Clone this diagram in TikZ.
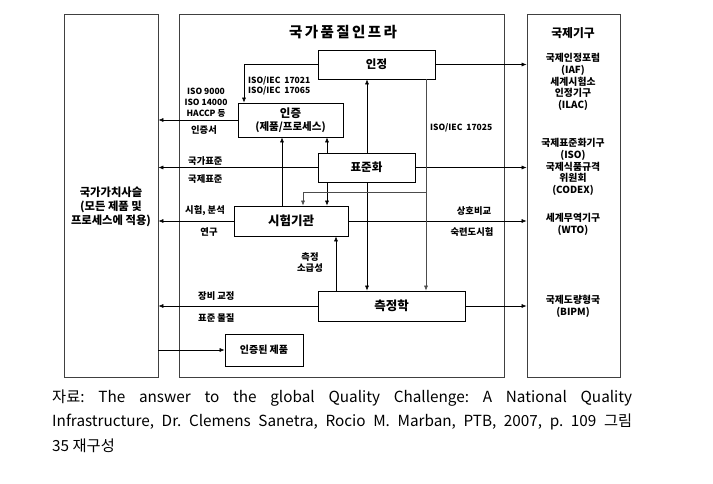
\documentclass[tikz,border=0pt]{standalone}
\usepackage{fontspec}
\setmainfont{Noto Sans CJK KR}
\usetikzlibrary{arrows.meta,calc}
\begin{document}
\frenchspacing
\begin{tikzpicture}[x=1pt,y=-1pt,
  outer/.style={draw=black!75,line width=0.7pt,inner sep=0pt},
  box/.style={draw=black,line width=0.7pt,inner sep=0pt,font=\bfseries\fontsize{11.5}{13}\selectfont},
  arr/.style={-{Latex[length=5pt,width=4pt]},line width=0.6pt},
  lbl/.style={inner sep=0pt,font=\bfseries\fontsize{9.3}{10}\selectfont},
  iso/.style={inner sep=0pt,font=\bfseries\fontsize{8.5}{10}\selectfont},
  org/.style={inner sep=0pt,align=center,font=\bfseries\fontsize{9.8}{11.8}\selectfont},
  captxt/.style={inner sep=0pt,anchor=west,font=\fontsize{15.3}{16}\selectfont}]
\useasboundingbox[fill=white] (0,0) rectangle (713,483);
% outer boxes
\node[outer,minimum width=94pt,minimum height=363pt] (L) at (111,195.5) {};
\node[outer,minimum width=325pt,minimum height=363pt] (M) at (341.5,195.5) {};
\node[outer,minimum width=93pt,minimum height=363pt] (R) at (573.5,195.5) {};
% titles
\node[inner sep=0pt,font=\bfseries\fontsize{14.5}{16}\selectfont] (title) at (343,32) {국\,가\,품\,질\,인\,프\,라};
\node[org,align=center,font=\bfseries\fontsize{11.3}{14}\selectfont] (vc) at (111,207) {국가가치사슬\\(모든 제품 및\\프로세스에 적용)};
\node[inner sep=0pt,font=\bfseries\fontsize{11.8}{13}\selectfont] (rt) at (573,33) {국제기구};
\node[org] (o1) at (573,82) {국제인정포럼\\(IAF)\\세계시험소\\인정기구\\(ILAC)};
\node[org] (o2) at (573,167) {국제표준화기구\\(ISO)\\국제식품규격\\위원회\\(CODEX)};
\node[org] (o3) at (573,224) {세계무역기구\\(WTO)};
\node[org] (o4) at (573,306) {국제도량형국\\(BIPM)};
% inner boxes
\node[box,minimum width=117pt,minimum height=29pt] (inj) at (376.5,64.5) {인정};
\node[box,minimum width=105pt,minimum height=34pt,align=center,font=\bfseries\fontsize{10.5}{13}\selectfont] (cert) at (290.5,120) {\fontsize{11.5}{13}\selectfont 인증\\(제품/프로세스)};
\node[box,minimum width=97pt,minimum height=29pt] (std) at (366.5,167.5) {표준화};
\node[box,minimum width=114pt,minimum height=30pt,font=\bfseries\fontsize{12.5}{14}\selectfont] (test) at (291,221) {시험기관};
\node[box,minimum width=147pt,minimum height=30pt,font=\bfseries\fontsize{12.5}{14}\selectfont] (metro) at (391.5,306) {측정학};
\node[box,minimum width=78pt,minimum height=32pt,font=\bfseries\fontsize{10}{12}\selectfont] (prod) at (264,350) {인증된 제품};
% helper coordinates
\coordinate (vA) at (244,0);
\coordinate (vB) at (282,0);
\coordinate (vC) at (327,0);
\coordinate (vD) at (367,0);
\coordinate (vE) at (426,0);
\coordinate (vF) at (303,0);
\coordinate (vG) at (336,0);
\coordinate (hB) at (0,192);
% connectors
\draw[arr] (inj.west) -| (cert.north -| vA);
\draw[arr] (inj.east) -- (inj.east -| R.west);
\draw[arr] (cert.west) -- (cert.west -| L.east);
\draw[arr] (std.west) -- (std.west -| L.east);
\draw[arr] (std.east) -- (std.east -| R.west);
\draw[arr] (test.west) -- (test.west -| L.east);
\draw[arr] (test.east) -- (test.east -| R.west);
\draw[arr] (metro.west) -- (metro.west -| L.east);
\draw[arr] (metro.east) -- (metro.east -| R.west);
\draw[arr] (prod.west -| L.east) -- (prod.west);
\draw[arr] (test.north -| vB) -- (cert.south -| vB);
\draw[arr] (std.north -| vC) -- (cert.south -| vC);
\draw[arr] (std.south -| vC) -- (test.north -| vC);
\draw[arr] (std.north -| vD) -- (inj.south -| vD);
\draw[arr] (std.south -| vD) -- (metro.north -| vD);
\draw[arr,draw=black!70] (inj.south -| vE) -- (metro.north -| vE);
\draw[arr,draw=black!70] (vE |- hB) -| (test.north -| vF);
\draw[arr] (metro.north -| vG) -- (test.south -| vG);
% labels
\node[iso,anchor=west] (l1) at (248,81) {ISO/IEC\ \ 17021};
\node[iso,anchor=west] (l2) at (248,91) {ISO/IEC\ \ 17065};
\node[iso] (l3) at (206,91) {ISO 9000};
\node[iso] (l4) at (206,102) {ISO 14000};
\node[iso] (l5) at (206,113) {HACCP\ 등};
\node[lbl] (l6) at (204,130) {인증서};
\node[iso,anchor=west] (l7) at (430,128) {ISO/IEC\ \ 17025};
\node[lbl,anchor=west] (l8) at (188,161) {국가표준};
\node[lbl,anchor=west] (l9) at (188,179) {국제표준};
\node[lbl,anchor=west] (l10) at (185,211) {시험, 분석};
\node[lbl] (l11) at (209,232) {연구};
\node[lbl] (l12) at (474,211) {상호비교};
\node[lbl] (l13) at (472,232) {숙련도시험};
\node[lbl] (l14) at (310,257) {측정};
\node[lbl] (l15) at (310,268) {소급성};
\node[lbl,anchor=west] (l16) at (198,296) {장비 교정};
\node[lbl,anchor=west] (l17) at (198,318) {표준 물질};
% caption
\node[captxt] (c1) at (52,398) {\makebox[580pt][s]{자료: The answer to the global Quality Challenge: A National Quality}};
\node[captxt] (c2) at (52,422) {\makebox[580pt][s]{Infrastructure, Dr. Clemens Sanetra, Rocio M. Marban, PTB, 2007, p. 109 그림}};
\node[captxt] (c3) at (52,446) {35 재구성};
\end{tikzpicture}
\end{document}
